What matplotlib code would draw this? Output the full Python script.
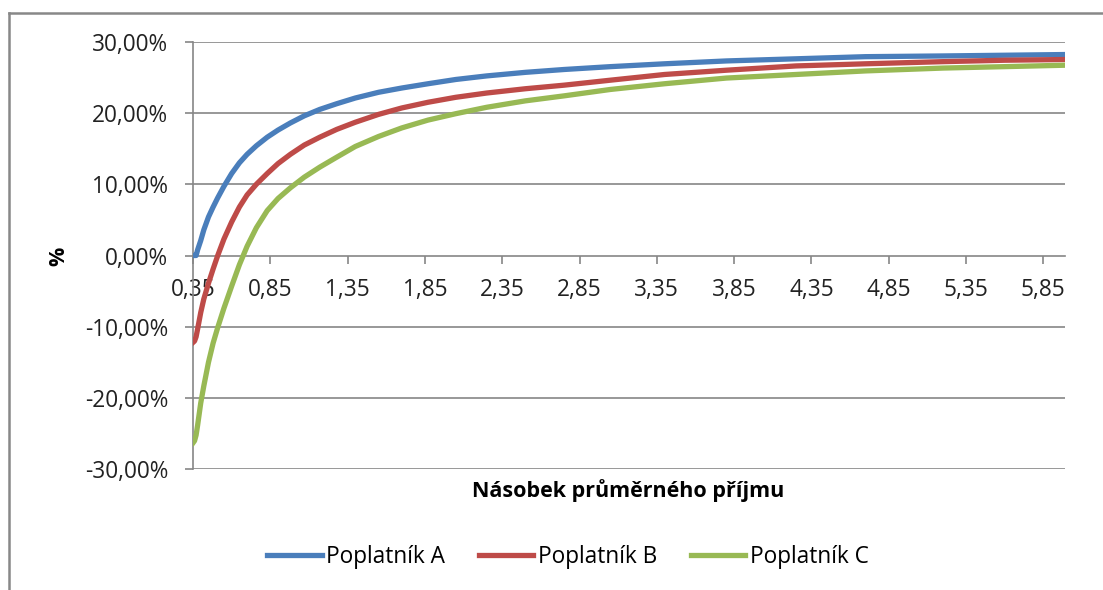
import matplotlib
matplotlib.use("Agg")
import matplotlib.pyplot as plt
from matplotlib.lines import Line2D
from matplotlib.ticker import FuncFormatter

plt.rcParams['font.family'] = ['Open Sans', 'DejaVu Sans']

# multiples of the average income
nasobek = [0.35, 0.36, 0.37, 0.38, 0.40, 0.42, 0.45, 0.48, 0.51, 0.55, 0.60, 0.65,
           0.70, 0.76, 0.83, 0.90, 0.98, 1.07, 1.17, 1.28, 1.40, 1.55, 1.70, 1.87,
           2.05, 2.25, 2.50, 2.75, 3.05, 3.40, 3.80, 4.25, 4.70, 5.20, 5.60, 5.99]

# effective rate in %
poplatnik_a = [0.0, 0.0, 0.0, 0.8, 2.1, 3.6, 5.4, 6.8, 8.1, 9.7, 11.5, 13.0,
               14.2, 15.4, 16.6, 17.6, 18.6, 19.6, 20.5, 21.3, 22.1, 22.9, 23.5, 24.1,
               24.7, 25.2, 25.7, 26.1, 26.5, 26.9, 27.3, 27.6, 27.9, 28.0, 28.1, 28.2]
poplatnik_b = [-12.2, -12.0, -11.4, -10.3, -8.0, -6.1, -3.9, -1.9, 0.0, 2.3, 4.7, 6.8,
               8.5, 10.0, 11.5, 12.9, 14.2, 15.5, 16.6, 17.7, 18.7, 19.8, 20.7, 21.5,
               22.2, 22.8, 23.4, 23.9, 24.6, 25.4, 26.0, 26.6, 26.9, 27.2, 27.4, 27.5]
poplatnik_c = [-26.3, -26.0, -25.2, -23.8, -20.7, -18.3, -15.0, -12.3, -10.1, -7.4, -4.3, -1.3,
               1.3, 3.9, 6.3, 8.0, 9.5, 11.0, 12.4, 13.8, 15.3, 16.7, 17.9, 19.0,
               19.9, 20.8, 21.7, 22.4, 23.3, 24.1, 24.9, 25.4, 25.9, 26.3, 26.5, 26.7]

x_ticks = [0.35, 0.85, 1.35, 1.85, 2.35, 2.85, 3.35, 3.85, 4.35, 4.85, 5.35, 5.85]
y_ticks = [-30, -20, -10, 0, 10, 20, 30]

grey = '#868686'
fs = 16.3

fig = plt.figure(figsize=(11.03, 5.90), dpi=100)
ax = fig.add_axes([193/1103, 1-469.3/590, (1065-193)/1103, (469.3-41.7)/590])

for yv in y_ticks:
    if yv != 0:
        ax.axhline(yv, color=grey, lw=1.2, zorder=1)

ax.plot(nasobek, poplatnik_a, color='#4A7EBB', lw=3.8, label='Poplatník A', zorder=3)
ax.plot(nasobek, poplatnik_b, color='#BE4B48', lw=3.8, label='Poplatník B', zorder=3)
ax.plot(nasobek, poplatnik_c, color='#98B954', lw=3.8, label='Poplatník C', zorder=3)

ax.set_xlim(0.35, 5.99)
ax.set_ylim(-30, 30)
ax.set_xticks(x_ticks)
ax.set_xticklabels([f'{v:.2f}'.replace('.', ',') for v in x_ticks])
ax.set_yticks(y_ticks)
ax.yaxis.set_major_formatter(FuncFormatter(lambda v, p: f'{v:.2f}'.replace('.', ',') + '%'))

ax.spines['top'].set_visible(False)
ax.spines['right'].set_visible(False)
ax.spines['bottom'].set_position(('data', 0))
for s in ('left', 'bottom'):
    ax.spines[s].set_color(grey)
    ax.spines[s].set_linewidth(1.2)
ax.tick_params(axis='both', direction='out', length=6, width=1.2, color=grey,
               labelsize=fs, labelcolor='#222222')
ax.tick_params(axis='x', pad=10)
ax.tick_params(axis='y', pad=12)

fig.text(59/1103, 1-256/590, '%', rotation=90, fontsize=15.5, fontweight='bold',
         ha='center', va='center')
fig.text(628/1103, 1-491/590, 'Násobek průměrného příjmu', fontsize=15.5,
         fontweight='bold', ha='center', va='center')

fig.legend(loc='center', bbox_to_anchor=(568/1103, 1-557/590), ncol=3, frameon=False,
           fontsize=fs, handlelength=2.4, handletextpad=0.2, columnspacing=1.5)

# chart border
fig.add_artist(Line2D([9/1103, 9/1103], [0, 1-13/590], color='#888888', lw=1.8))
fig.add_artist(Line2D([9/1103, 1], [1-13/590, 1-13/590], color='#888888', lw=1.8))

fig.savefig('out.png', dpi=100)
